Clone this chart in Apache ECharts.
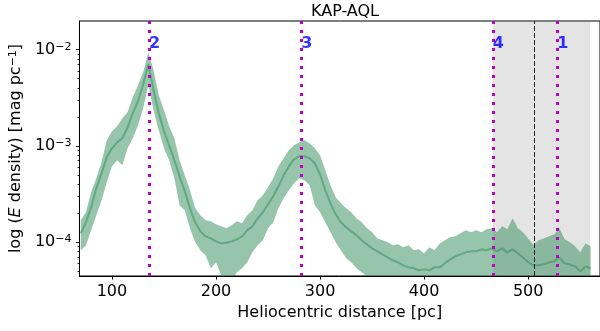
<!DOCTYPE html>
<html><head><meta charset="utf-8">
<script src="https://cdn.jsdelivr.net/npm/echarts@6/dist/echarts.min.js"></script>
<style>html,body{margin:0;padding:0;background:#fff}#c{width:600px;height:331px}</style>
</head><body><div id="c"></div>
<script>
// Heliocentric distance samples [pc]
const distancePc = [
70,75,80,85,90,95,100,105,110,115,
120,125,130,135,140,145,150,155,160,165,
170,175,180,185,190,195,200,205,210,215,
220,225,230,235,240,245,250,255,260,265,
270,275,280,285,290,295,300,305,310,315,
320,325,330,335,340,345,350,355,360,365,
370,375,380,385,390,395,400,405,410,415,
420,425,430,435,440,445,450,455,460,465,
470,475,480,485,490,495,500,505,510,515,
520,525,530,535,540,545,550,555,560];
// log10 of extinction density [mag/pc]: median, upper and lower envelope
const medianExp = [
-3.909,-3.795,-3.639,-3.442,-3.286,-3.120,-3.026,-2.964,-2.922,-2.808,
-2.662,-2.537,-2.361,-2.153,-2.423,-2.662,-2.849,-2.995,-3.151,-3.317,
-3.473,-3.650,-3.795,-3.889,-3.941,-3.962,-3.993,-4.014,-4.008,-3.993,
-3.972,-3.941,-3.878,-3.837,-3.754,-3.691,-3.608,-3.525,-3.421,-3.307,
-3.213,-3.140,-3.109,-3.109,-3.130,-3.182,-3.296,-3.463,-3.598,-3.712,
-3.795,-3.847,-3.889,-3.930,-3.982,-4.024,-4.066,-4.097,-4.128,-4.159,
-4.190,-4.211,-4.242,-4.263,-4.273,-4.294,-4.284,-4.294,-4.263,-4.263,
-4.221,-4.180,-4.149,-4.128,-4.107,-4.097,-4.097,-4.076,-4.086,-4.066,
-4.097,-4.066,-4.107,-4.076,-4.117,-4.159,-4.211,-4.242,-4.242,-4.232,
-4.211,-4.201,-4.159,-4.221,-4.232,-4.253,-4.305,-4.253,-4.273];
const upperExp = [
-3.774,-3.691,-3.483,-3.338,-3.172,-2.943,-2.849,-2.797,-2.714,-2.652,
-2.496,-2.371,-2.236,-2.028,-2.215,-2.475,-2.631,-2.797,-2.922,-3.151,
-3.307,-3.463,-3.650,-3.722,-3.774,-3.785,-3.816,-3.837,-3.858,-3.826,
-3.785,-3.806,-3.722,-3.671,-3.567,-3.515,-3.431,-3.338,-3.213,-3.130,
-3.047,-2.995,-2.964,-2.943,-2.974,-3.026,-3.099,-3.255,-3.411,-3.535,
-3.598,-3.650,-3.691,-3.754,-3.795,-3.858,-3.899,-3.962,-3.982,-4.003,
-4.034,-4.024,-4.055,-4.034,-4.086,-4.076,-4.117,-4.055,-4.086,-4.014,
-3.982,-3.951,-3.941,-3.910,-3.878,-3.899,-3.878,-3.899,-3.868,-3.858,
-3.899,-3.837,-3.868,-3.754,-3.858,-3.899,-3.962,-4.034,-3.982,-3.962,
-3.941,-3.920,-3.858,-3.972,-4.003,-4.045,-4.107,-4.014,-4.045];
const lowerExp = [
-4.086,-4.034,-3.878,-3.722,-3.567,-3.379,-3.213,-3.151,-3.203,-3.026,
-2.922,-2.787,-2.610,-2.371,-2.631,-2.839,-3.026,-3.151,-3.338,-3.619,
-3.671,-3.858,-4.003,-4.086,-4.138,-4.273,-4.211,-4.346,-4.398,-4.419,
-4.315,-4.273,-4.211,-4.107,-4.034,-3.982,-3.858,-3.795,-3.650,-3.546,
-3.463,-3.390,-3.338,-3.359,-3.411,-3.619,-3.691,-3.795,-3.899,-4.003,
-4.086,-4.169,-4.211,-4.273,-4.315,-4.357,-4.398,-4.440,-4.47,-4.50,
-4.46,-4.52,-4.48,-4.51,-4.47,-4.49,-4.53,-4.48,-4.50,-4.47,
-4.49,-4.52,-4.48,-4.50,-4.46,-4.51,-4.49,-4.47,-4.50,-4.48,
-4.52,-4.49,-4.47,-4.50,-4.48,-4.51,-4.53,-4.49,-4.50,-4.48,
-4.50,-4.47,-4.49,-4.52,-4.48,-4.50,-4.53,-4.49,-4.51];
// cloud markers
const cloudNames = ['2','3','4','1'];
const cloudDistPc = [135.6, 281.8, 466, 528];
const dashedDistPc = 506;
const shadedRangePc = [466, 559.5];
// ticks
const xTicks = [100,200,300,400,500];
const yMajorExp = [-4,-3,-2];
const yMinorExp = [-4.301,-4.222,-4.155,-4.097,-4.046,
  -3.699,-3.523,-3.398,-3.301,-3.222,-3.155,-3.097,-3.046,
  -2.699,-2.523,-2.398,-2.301,-2.222,-2.155,-2.097,-2.046];

const FONT = 'DejaVu Sans';
const GREEN = 'rgba(46,139,87,0.5)';
const xMin = 68.8, xMax = 569.0, yMin = -4.353, yMax = -1.703;
const labelLevelExp = -1.945;

const pairs = (xs, ys) => xs.map((x, i) => [x, ys[i]]);
// band data: each item = [distance, upper, lower]
const bandData = distancePc.map((x, i) => [x, upperExp[i], lowerExp[i]]);

function renderBand(params, api) {
  if (params.dataIndex !== 0) return null;
  const top = [], bottom = [];
  for (let i = 0; i < bandData.length; i++) {
    top.push(api.coord([bandData[i][0], bandData[i][1]]));
    bottom.push(api.coord([bandData[i][0], bandData[i][2]]));
  }
  const pts = top.concat(bottom.reverse());
  return {
    type: 'polygon',
    shape: {points: pts},
    style: {fill: GREEN, stroke: null},
    silent: true
  };
}

const chart = echarts.init(document.getElementById('c'), null, {renderer: 'canvas'});
chart.setOption({
  animation: false,
  backgroundColor: '#fff',
  title: {
    text: 'KAP-AQL', left: 340, top: -1, textAlign: 'center',
    textStyle: {fontFamily: FONT, fontSize: 16, fontWeight: 'normal', color: '#000'}
  },
  grid: {left: 77, top: 21, right: -1, bottom: 55, show: true, borderColor: '#000', borderWidth: 1, backgroundColor: 'transparent'},
  xAxis: {
    type: 'value', min: xMin, max: xMax,
    name: 'Heliocentric distance [pc]', nameLocation: 'middle', nameGap: 27,
    nameTextStyle: {fontFamily: FONT, fontSize: 16, color: '#000'},
    axisLine: {show: true, onZero: false, lineStyle: {color: '#000', width: 1}},
    axisTick: {show: true, customValues: xTicks, length: 3.5, lineStyle: {color: '#000', width: 1}},
    axisLabel: {customValues: xTicks, margin: 8, fontFamily: FONT, fontSize: 16, color: '#000'},
    splitLine: {show: false}
  },
  yAxis: [{
    type: 'value', min: yMin, max: yMax,
    name: 'log ({i|E} density) [mag pc{s|−1}]', nameLocation: 'middle', nameRotate: 90, nameGap: 50,
    nameTextStyle: {fontFamily: FONT, fontSize: 16, color: '#000',
      rich: {i: {fontFamily: FONT, fontSize: 16, fontStyle: 'italic', color: '#000'},
             s: {fontFamily: FONT, fontSize: 11, color: '#000', verticalAlign: 'top'}}},
    axisLine: {show: true, onZero: false, lineStyle: {color: '#000', width: 1}},
    axisTick: {show: true, customValues: yMajorExp, length: 3.5, lineStyle: {color: '#000', width: 1}},
    axisLabel: {customValues: yMajorExp, margin: 8, fontFamily: FONT, fontSize: 16, color: '#000',
      formatter: v => '{b|10}{s|−' + Math.round(Math.abs(v)) + '}',
      rich: {b: {fontFamily: FONT, fontSize: 16, color: '#000'},
             s: {fontFamily: FONT, fontSize: 11, color: '#000', verticalAlign: 'top'}}},
    splitLine: {show: false}
  }, {
    type: 'value', min: yMin, max: yMax, position: 'left',
    axisLine: {show: false},
    axisTick: {show: true, customValues: yMinorExp, length: 2, lineStyle: {color: '#000', width: 0.8}},
    axisLabel: {show: false}, splitLine: {show: false}
  }],
  series: [
    {type: 'line', data: [], z: 0, silent: true,
     markArea: {silent: true, itemStyle: {color: 'rgba(128,128,128,0.21)'},
       data: [[{xAxis: shadedRangePc[0]}, {xAxis: shadedRangePc[1]}]]}},
    {type: 'line', data: [], z: 1, silent: true,
     markLine: {silent: true, symbol: 'none', label: {show: false}, animation: false,
       data: cloudDistPc.map(d => ({xAxis: d, lineStyle: {color: '#bf00bf', width: 3, type: [3, 6]}}))
         .concat([{xAxis: dashedDistPc, lineStyle: {color: '#222', width: 1, type: [5, 2]}}])}},
    {type: 'custom', data: bandData, renderItem: renderBand, clip: true, z: 2, silent: true,
     encode: {x: 0, y: [1, 2]}},
    {type: 'line', data: pairs(distancePc, medianExp), symbol: 'none',
     lineStyle: {color: GREEN, width: 2}, z: 3, silent: true},
    {type: 'scatter', symbolSize: 0, z: 5, silent: true,
     data: cloudNames.map((n, i) => ({name: n, value: [cloudDistPc[i], labelLevelExp]})),
     label: {show: true, position: 'right', distance: 0, formatter: p => p.name,
       fontFamily: FONT, fontSize: 16, fontWeight: 'bold', color: '#0000ff'}}
  ]
});
</script></body></html>
